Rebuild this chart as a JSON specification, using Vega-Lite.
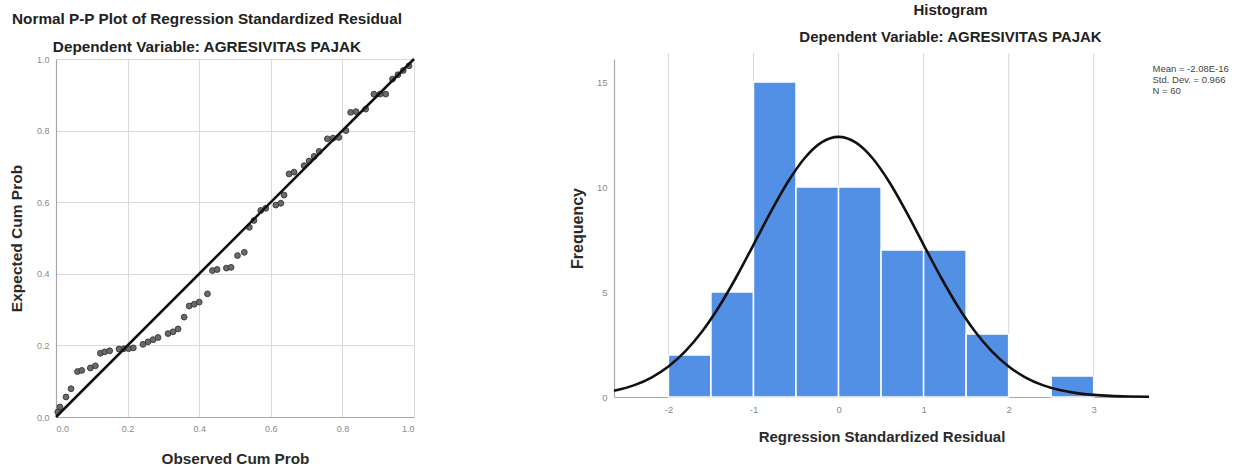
{
  "$schema": "https://vega.github.io/schema/vega-lite/v6.json",
  "background": "white",
  "padding": {"left": 9, "top": 2, "right": 0, "bottom": 0},
  "config": {
    "font": "Liberation Sans",
    "view": {"stroke": null},
    "axis": {
      "gridColor": "#d9d9d9",
      "gridWidth": 1,
      "domainColor": "#a8a8a8",
      "domainWidth": 1.2,
      "ticks": false,
      "labelFontSize": 9,
      "labelColor": "#8a8a8a",
      "labelFont": "Liberation Sans",
      "titleFont": "Liberation Sans",
      "titleFontSize": 15.3,
      "titleFontWeight": "bold",
      "titleColor": "#2a2a2a"
    }
  },
  "spacing": 149,
  "hconcat": [
    {
      "width": 358,
      "height": 358,
      "title": {
        "text": "Normal P-P Plot of Regression Standardized Residual",
        "subtitle": "Dependent Variable: AGRESIVITAS PAJAK",
        "fontSize": 15.3,
        "fontWeight": "bold",
        "color": "#222222",
        "subtitleFontSize": 15.3,
        "subtitleFontWeight": "bold",
        "subtitleColor": "#222222",
        "subtitlePadding": 12,
        "anchor": "middle",
        "frame": "group",
        "dx": -28,
        "offset": -1
      },
      "layer": [
        {
          "data": {"values": [
            {"obs": 0.005, "exp": 0.014},
            {"obs": 0.011, "exp": 0.028},
            {"obs": 0.028, "exp": 0.056},
            {"obs": 0.042, "exp": 0.079},
            {"obs": 0.060, "exp": 0.127},
            {"obs": 0.072, "exp": 0.130},
            {"obs": 0.096, "exp": 0.137},
            {"obs": 0.110, "exp": 0.143},
            {"obs": 0.124, "exp": 0.178},
            {"obs": 0.136, "exp": 0.182},
            {"obs": 0.150, "exp": 0.185},
            {"obs": 0.176, "exp": 0.190},
            {"obs": 0.190, "exp": 0.191},
            {"obs": 0.203, "exp": 0.191},
            {"obs": 0.216, "exp": 0.193},
            {"obs": 0.243, "exp": 0.203},
            {"obs": 0.257, "exp": 0.210},
            {"obs": 0.271, "exp": 0.216},
            {"obs": 0.285, "exp": 0.222},
            {"obs": 0.313, "exp": 0.233},
            {"obs": 0.327, "exp": 0.238},
            {"obs": 0.341, "exp": 0.246},
            {"obs": 0.358, "exp": 0.279},
            {"obs": 0.372, "exp": 0.310},
            {"obs": 0.386, "exp": 0.315},
            {"obs": 0.400, "exp": 0.321},
            {"obs": 0.423, "exp": 0.344},
            {"obs": 0.437, "exp": 0.409},
            {"obs": 0.450, "exp": 0.412},
            {"obs": 0.476, "exp": 0.416},
            {"obs": 0.489, "exp": 0.418},
            {"obs": 0.507, "exp": 0.451},
            {"obs": 0.526, "exp": 0.460},
            {"obs": 0.540, "exp": 0.530},
            {"obs": 0.553, "exp": 0.549},
            {"obs": 0.572, "exp": 0.577},
            {"obs": 0.586, "exp": 0.583},
            {"obs": 0.614, "exp": 0.592},
            {"obs": 0.628, "exp": 0.597},
            {"obs": 0.637, "exp": 0.620},
            {"obs": 0.651, "exp": 0.679},
            {"obs": 0.665, "exp": 0.684},
            {"obs": 0.693, "exp": 0.702},
            {"obs": 0.707, "exp": 0.715},
            {"obs": 0.721, "exp": 0.728},
            {"obs": 0.735, "exp": 0.742},
            {"obs": 0.758, "exp": 0.777},
            {"obs": 0.774, "exp": 0.779},
            {"obs": 0.790, "exp": 0.781},
            {"obs": 0.810, "exp": 0.800},
            {"obs": 0.823, "exp": 0.851},
            {"obs": 0.838, "exp": 0.853},
            {"obs": 0.865, "exp": 0.860},
            {"obs": 0.888, "exp": 0.902},
            {"obs": 0.905, "exp": 0.902},
            {"obs": 0.921, "exp": 0.902},
            {"obs": 0.940, "exp": 0.944},
            {"obs": 0.955, "exp": 0.956},
            {"obs": 0.970, "exp": 0.968},
            {"obs": 0.986, "exp": 0.981}
          ]},
          "mark": {"type": "point", "shape": "circle", "filled": true, "size": 34, "fill": "#6a6a6a", "stroke": "#353535", "strokeWidth": 0.9, "opacity": 1},
          "encoding": {
            "x": {"field": "obs", "type": "quantitative", "scale": {"domain": [0, 1], "nice": false}, "axis": {"title": "Observed Cum Prob", "values": [0, 0.2, 0.4, 0.6, 0.8, 1], "format": ".1f", "labelPadding": 7, "titlePadding": 18}},
            "y": {"field": "exp", "type": "quantitative", "scale": {"domain": [0, 1], "nice": false}, "axis": {"title": "Expected Cum Prob", "titleFontSize": 15.5, "values": [0, 0.2, 0.4, 0.6, 0.8, 1], "format": ".1f", "labelPadding": 7, "titlePadding": 12}}
          }
        },
        {
          "data": {"values": [{"obs": 0, "exp": 0}, {"obs": 1, "exp": 1}]},
          "mark": {"type": "line", "color": "#111111", "strokeWidth": 2.6},
          "encoding": {
            "x": {"field": "obs", "type": "quantitative"},
            "y": {"field": "exp", "type": "quantitative"}
          }
        }
      ]
    },
    {
      "width": 535,
      "height": 338,
      "title": {
        "text": "Histogram",
        "subtitle": "Dependent Variable: AGRESIVITAS PAJAK",
        "fontSize": 15,
        "fontWeight": "bold",
        "color": "#222222",
        "subtitleFontSize": 15,
        "subtitleFontWeight": "bold",
        "subtitleColor": "#222222",
        "subtitlePadding": 12,
        "anchor": "middle",
        "frame": "group",
        "dx": 69,
        "offset": 8
      },
      "layer": [
        {
          "data": {"values": [
            {"g": -2}, {"g": -1}, {"g": 0}, {"g": 1}, {"g": 2}, {"g": 3}
          ]},
          "mark": {"type": "rule", "color": "#d9d9d9", "strokeWidth": 1},
          "encoding": {
            "x": {"field": "g", "type": "quantitative", "scale": {"domain": [-2.64, 3.65], "nice": false, "zero": false}, "axis": {"title": "Regression Standardized Residual", "titleFontSize": 15, "grid": false, "values": [-2, -1, 0, 1, 2, 3], "format": "d", "labelExpr": "replace(datum.label, '\u2212', '-')", "labelFontSize": 9.5, "labelPadding": 7, "titlePadding": 16}},
            "y": {"datum": 0, "type": "quantitative", "scale": {"domain": [0, 16.1], "nice": false}},
            "y2": {"datum": 16.38}
          }
        },
        {
          "data": {"values": [
            {"x0": -2.0, "x1": -1.5, "count": 2},
            {"x0": -1.5, "x1": -1.0, "count": 5},
            {"x0": -1.0, "x1": -0.5, "count": 15},
            {"x0": -0.5, "x1": 0.0, "count": 10},
            {"x0": 0.0, "x1": 0.5, "count": 10},
            {"x0": 0.5, "x1": 1.0, "count": 7},
            {"x0": 1.0, "x1": 1.5, "count": 7},
            {"x0": 1.5, "x1": 2.0, "count": 3},
            {"x0": 2.5, "x1": 3.0, "count": 1}
          ]},
          "mark": {"type": "rect", "color": "#5290e6", "stroke": "white", "strokeWidth": 1.5},
          "encoding": {
            "x": {"field": "x0", "type": "quantitative", "axis": {"title": "Regression Standardized Residual", "grid": false}},
            "x2": {"field": "x1"},
            "y": {"field": "count", "type": "quantitative", "scale": {"domain": [0, 16.1], "nice": false}, "axis": {"title": "Frequency", "titleFontSize": 16, "values": [0, 5, 10, 15], "labelFontSize": 9.5, "labelPadding": 7, "titlePadding": 11}},
            "y2": {"datum": 0}
          }
        },
        {
          "data": {"values": [
            {"z": -2.64, "f": 0.296},
            {"z": -2.4, "f": 0.566},
            {"z": -2.2, "f": 0.927},
            {"z": -2.0, "f": 1.453},
            {"z": -1.8, "f": 2.183},
            {"z": -1.6, "f": 3.143},
            {"z": -1.4, "f": 4.335},
            {"z": -1.2, "f": 5.728},
            {"z": -1.0, "f": 7.251},
            {"z": -0.8, "f": 8.793},
            {"z": -0.6, "f": 10.216},
            {"z": -0.4, "f": 11.372},
            {"z": -0.2, "f": 12.127},
            {"z": 0.0, "f": 12.39},
            {"z": 0.2, "f": 12.127},
            {"z": 0.4, "f": 11.372},
            {"z": 0.6, "f": 10.216},
            {"z": 0.8, "f": 8.793},
            {"z": 1.0, "f": 7.251},
            {"z": 1.2, "f": 5.728},
            {"z": 1.4, "f": 4.335},
            {"z": 1.6, "f": 3.143},
            {"z": 1.8, "f": 2.183},
            {"z": 2.0, "f": 1.453},
            {"z": 2.2, "f": 0.927},
            {"z": 2.4, "f": 0.566},
            {"z": 2.6, "f": 0.331},
            {"z": 2.8, "f": 0.186},
            {"z": 3.0, "f": 0.0997},
            {"z": 3.2, "f": 0.0513},
            {"z": 3.4, "f": 0.0253},
            {"z": 3.65, "f": 0.0098}
          ]},
          "mark": {"type": "line", "color": "#111111", "strokeWidth": 2.6, "interpolate": "monotone"},
          "encoding": {
            "x": {"field": "z", "type": "quantitative"},
            "y": {"field": "f", "type": "quantitative"}
          }
        },
        {
          "data": {"values": [
            {"s": "Mean = -2.08E-16"},
            {"s": "Std. Dev. = 0.966"},
            {"s": "N = 60"}
          ]},
          "mark": {"type": "text", "opacity": 0},
          "encoding": {
            "text": {"field": "s"},
            "color": {
              "field": "s",
              "type": "nominal",
              "scale": {"domain": ["Mean = -2.08E-16", "Std. Dev. = 0.966", "N = 60"], "range": ["#333333", "#333333", "#333333"]},
              "legend": {"title": null, "orient": "right", "offset": -17, "padding": 5, "symbolSize": 0, "symbolOpacity": 0, "symbolStrokeWidth": 0, "labelOffset": 0, "labelFontSize": 9.5, "labelColor": "#444444", "labelFont": "Liberation Sans", "rowPadding": 0}
            }
          }
        }
      ]
    }
  ]
}
